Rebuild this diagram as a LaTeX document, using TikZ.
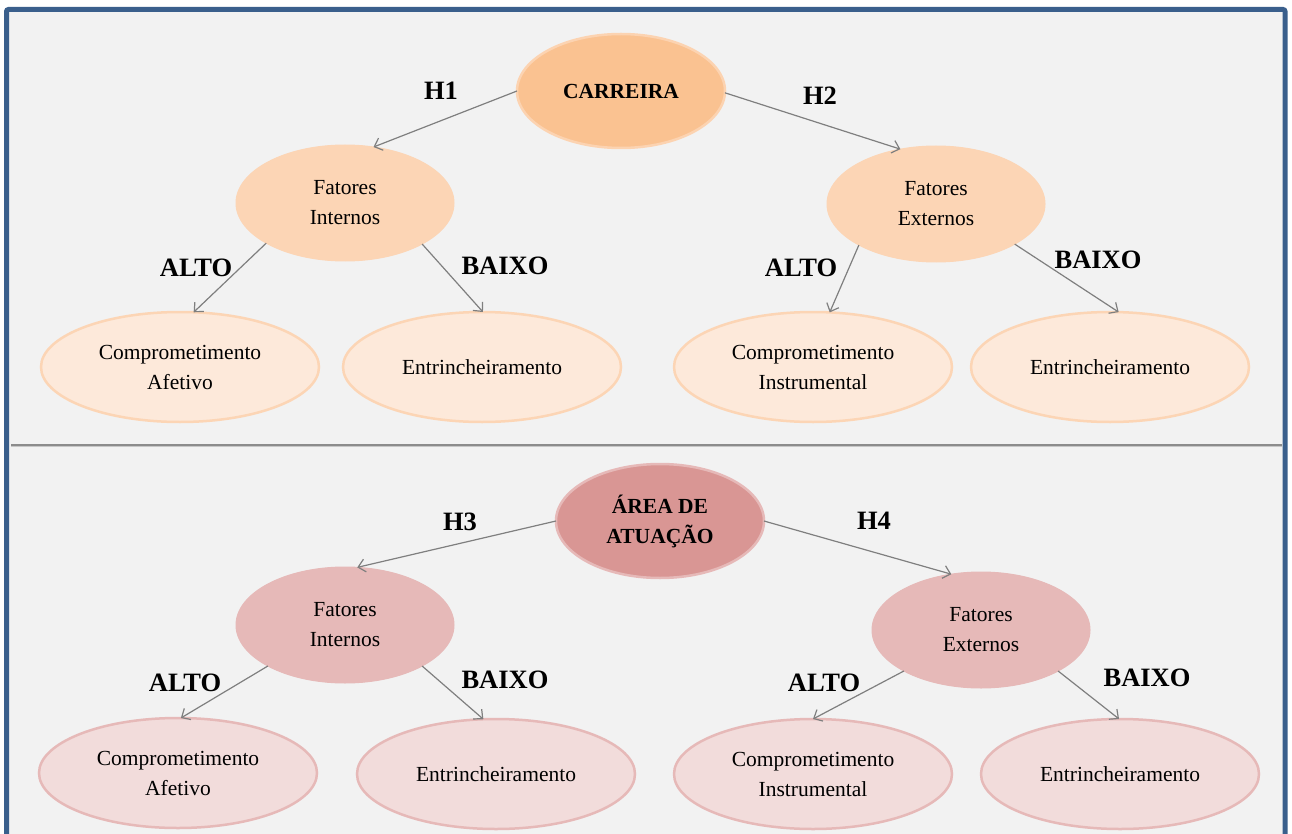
\documentclass[tikz,border=0pt]{standalone}
\usepackage{fontspec}
\setmainfont{Liberation Serif}
\usetikzlibrary{shapes.geometric,arrows.meta}

\definecolor{framecol}{RGB}{58,95,140}
\definecolor{panelbg}{HTML}{F2F2F2}
\definecolor{rulegray}{HTML}{8C8C8C}
\definecolor{arrowgray}{HTML}{7F7F7F}
\definecolor{orangeroot}{HTML}{FAC291}
\definecolor{orangerootrim}{HTML}{FCD3B1}
\definecolor{orangemid}{HTML}{FCD5B5}
\definecolor{orangeleaf}{HTML}{FDE9DA}
\definecolor{roseroot}{HTML}{D99694}
\definecolor{roserim}{HTML}{E6B9B8}
\definecolor{rosemid}{HTML}{E6B9B8}
\definecolor{roseleaf}{HTML}{F2DCDB}

\tikzset{
  oval/.style={ellipse, inner sep=0pt, outer sep=0pt, align=center,
    font=\fontsize{21.5}{30}\selectfont},
  rootA/.style={oval, fill=orangeroot, draw=orangerootrim, line width=2.5pt,
    minimum width=208pt, minimum height=114pt, font=\fontsize{21.5}{30}\selectfont\bfseries},
  midA/.style={oval, fill=orangemid, draw=orangemid, line width=1pt,
    minimum width=218pt, minimum height=116pt},
  leafA/.style={oval, fill=orangeleaf, draw=orangemid, line width=2.5pt,
    minimum width=278pt, minimum height=110pt},
  rootB/.style={oval, fill=roseroot, draw=roserim, line width=2.5pt,
    minimum width=208pt, minimum height=114pt, font=\fontsize{21.5}{30}\selectfont\bfseries},
  midB/.style={oval, fill=rosemid, draw=rosemid, line width=1pt,
    minimum width=218pt, minimum height=116pt},
  leafB/.style={oval, fill=roseleaf, draw=roserim, line width=2.5pt,
    minimum width=278pt, minimum height=110pt},
  lbl/.style={inner sep=0pt, font=\fontsize{26.5}{30}\selectfont\bfseries},
  link/.style={draw=arrowgray, line width=1.2pt,
    -{Straight Barb[length=7pt,width=13pt,line width=1.2pt]}},
}

\begin{document}
\begin{tikzpicture}[x=1pt,y=-1pt]
\useasboundingbox (0,0) rectangle (1292,834);

% panel with its blue frame (bottom edge runs past the page)
\begin{scope}
  \clip (0,0) rectangle (1292,834);
  \draw[fill=panelbg, draw=framecol, line width=5pt, rounded corners=2pt]
    (6.5,9.5) rectangle (1285,870);
\end{scope}

% rule between the two halves
\draw[draw=rulegray, line width=1.5pt] (11,445) -- (1282,445);
\draw[draw=black!22, line width=1pt] (11,446.8) -- (1282,446.8);

% ---- upper tree ----
\node[rootA] (car) at (621,91) {CARREIRA};
\node[midA] (fiA) at (345,203) {Fatores\\Internos};
\node[midA] (feA) at (936,204) {Fatores\\Externos};
\node[leafA] (caA) at (180,367) {Comprometimento\\Afetivo};
\node[leafA] (enA) at (482,367) {Entrincheiramento};
\node[leafA] (ciA) at (813,367) {Comprometimento\\Instrumental};
\node[leafA] (en2A) at (1110,367) {Entrincheiramento};

\draw[link] (car.180) -- (fiA.63);
\draw[link] (car.-1) -- (feA.123);
\draw[link] (fiA.207.5) -- (caA.76.5);
\draw[link] (fiA.332) -- (enA.89);
\draw[link] (feA.208.4) -- (ciA.73.5);
\draw[link] (feA.333.4) -- (en2A.81.6);

\node[lbl] (h1) at (441,91) {H1};
\node[lbl] (h2) at (820,96) {H2};
\node[lbl] (altoA) at (196,268) {ALTO};
\node[lbl] (baixoA) at (505,266) {BAIXO};
\node[lbl] (alto2A) at (801,268) {ALTO};
\node[lbl] (baixo2A) at (1098,260) {BAIXO};

% ---- lower tree ----
\node[rootB] (area) at (660,521) {ÁREA DE\\ATUAÇÃO};
\node[midB] (fiB) at (345,625) {Fatores\\Internos};
\node[midB] (feB) at (981,630) {Fatores\\Externos};
\node[leafB] (caB) at (178,773) {Comprometimento\\Afetivo};
\node[leafB] (enB) at (496,774) {Entrincheiramento};
\node[leafB] (ciB) at (813,774) {Comprometimento\\Instrumental};
\node[leafB] (en2B) at (1120,774) {Entrincheiramento};

\draw[link] (area.180) -- (fiB.78);
\draw[link] (area.0) -- (feB.118.5);
\draw[link] (fiB.208) -- (caB.87);
\draw[link] (fiB.332.2) -- (enB.103);
\draw[link] (feB.208.7) -- (ciB.90);
\draw[link] (feB.332.5) -- (en2B.91);

\node[lbl] (h3) at (460,522) {H3};
\node[lbl] (h4) at (874,521) {H4};
\node[lbl] (altoB) at (185,683) {ALTO};
\node[lbl] (baixoB) at (505,680) {BAIXO};
\node[lbl] (alto2B) at (824,683) {ALTO};
\node[lbl] (baixo2B) at (1147,678) {BAIXO};
\end{tikzpicture}
\end{document}
